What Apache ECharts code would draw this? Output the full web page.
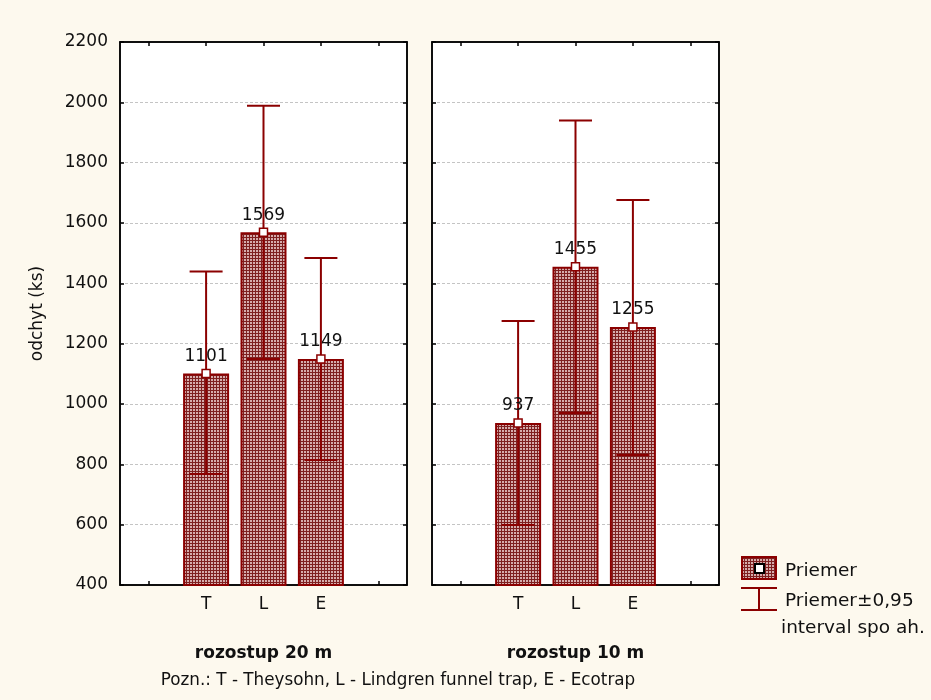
<!DOCTYPE html>
<html><head><meta charset="utf-8">
<script src="https://cdn.jsdelivr.net/npm/echarts@6/dist/echarts.min.js"></script>
<style>html,body{margin:0;padding:0;background:#fdf9ee;}#c{width:931px;height:700px;}</style>
</head><body><div id="c"></div>
<script>
const categories = ['', 'T', 'L', 'E', ''];
const groups = ['rozostup 20 m', 'rozostup 10 m'];
const means20 = [1101, 1569, 1149];
const low20 = [768, 1149, 814];
const high20 = [1439, 1989, 1484];
const means10 = [937, 1455, 1255];
const low10 = [599, 970, 831];
const high10 = [1275, 1940, 1676];
const yTicks = [400, 600, 800, 1000, 1200, 1400, 1600, 1800, 2000, 2200];
const legendNames = ['Priemer', 'Priemer\u00b10,95', 'interval spo ah.'];
const footnote = 'Pozn.: T - Theysohn, L - Lindgren funnel trap, E - Ecotrap';
const yName = 'odchyt (ks)';

const RED = '#8b0000';
const FONT = 'DejaVu Sans';
function makePattern() {
  const c = document.createElement('canvas');
  c.width = 3; c.height = 3;
  const g = c.getContext('2d');
  g.fillStyle = '#7e2020'; g.fillRect(0, 0, 3, 3);
  g.fillStyle = '#d6acac'; g.fillRect(1, 1, 2, 2);
  return c;
}
const pat = { image: makePattern(), repeat: 'repeat' };

const chart = echarts.init(document.getElementById('c'));
const grids = [
  { left: 120, top: 42, width: 287, height: 543 },
  { left: 432, top: 42, width: 287, height: 543 }
];
const xAxes = [], yAxes = [], series = [];
const allMeans = [means20, means10], allLow = [low20, low10], allHigh = [high20, high10];
grids.forEach((g, gi) => {
  const axLine = { show: true, lineStyle: { color: '#000', width: 1.5 } };
  const tick = { show: true, inside: true, length: 4, alignWithLabel: true, lineStyle: { color: '#000', width: 1.5 } };
  xAxes.push({ type: 'category', gridIndex: gi, data: categories, position: 'bottom',
    axisLine: axLine, axisTick: tick,
    axisLabel: { fontSize: 17, color: '#111', margin: 11, fontFamily: FONT },
    name: groups[gi], nameLocation: 'middle', nameGap: 60,
    nameTextStyle: { fontSize: 17, fontWeight: 'bold', color: '#111', fontFamily: FONT } });
  xAxes.push({ type: 'category', gridIndex: gi, data: categories, position: 'top',
    axisLine: axLine, axisTick: tick, axisLabel: { show: false } });
  const yBase = { type: 'value', gridIndex: gi, min: yTicks[0], max: yTicks[yTicks.length - 1], interval: 200,
    axisLine: axLine, axisTick: { show: true, inside: true, length: 4, lineStyle: { color: '#000', width: 1.5 } } };
  yAxes.push(Object.assign({}, yBase, { position: 'left',
    axisLabel: { show: gi === 0, fontSize: 17, color: '#111', margin: 12, fontFamily: FONT, formatter: v => String(v) },
    splitLine: { show: true, showMinLine: false, showMaxLine: false, lineStyle: { color: '#c4c4c4', type: [3, 2], width: 1 } },
    name: gi === 0 ? yName : '', nameLocation: 'middle', nameGap: 74, nameRotate: 90,
    nameTextStyle: { fontSize: 17, color: '#111', fontFamily: FONT } }));
  yAxes.push(Object.assign({}, yBase, { position: 'right', axisLabel: { show: false }, splitLine: { show: false } }));

  const m = allMeans[gi], lo = allLow[gi], hi = allHigh[gi];
  const barData = categories.map((c, i) => (i >= 1 && i <= 3) ? m[i - 1] : null);
  series.push({ type: 'bar', xAxisIndex: gi * 2, yAxisIndex: gi * 2, data: barData, barWidth: 46,
    itemStyle: { color: pat, borderColor: RED, borderWidth: 2 }, z: 2, silent: true });
  series.push({ type: 'custom', xAxisIndex: gi * 2, yAxisIndex: gi * 2, z: 3,
    data: m.map((v, i) => [i + 1, lo[i], hi[i]]),
    renderItem: function (params, api) {
      const x = api.value(0);
      const pLo = api.coord([x, api.value(1)]);
      const pHi = api.coord([x, api.value(2)]);
      const w = 16.5;
      const st = { stroke: RED, lineWidth: 2 };
      return { type: 'group', children: [
        { type: 'line', shape: { x1: pLo[0], y1: pLo[1], x2: pHi[0], y2: pHi[1] }, style: st },
        { type: 'line', shape: { x1: pHi[0] - w, y1: pHi[1], x2: pHi[0] + w, y2: pHi[1] }, style: st },
        { type: 'line', shape: { x1: pLo[0] - w, y1: pLo[1], x2: pLo[0] + w, y2: pLo[1] }, style: st }
      ] };
    } });
  series.push({ type: 'scatter', xAxisIndex: gi * 2, yAxisIndex: gi * 2, z: 4,
    data: m.map((v, i) => [i + 1, v]), symbol: 'rect', symbolSize: 8,
    itemStyle: { color: '#fff', borderColor: RED, borderWidth: 1.5, opacity: 1 },
    label: { show: true, position: 'top', distance: 4, fontSize: 17, color: '#111', fontFamily: FONT,
      formatter: p => String(p.value[1]) } });
});

const txt = (x, y, t, extra) => ({ type: 'text', x: x, y: y, z: 10,
  style: Object.assign({ text: t, fontSize: 18.5, fill: '#111', fontFamily: FONT, verticalAlign: 'middle' }, extra || {}) });

chart.setOption({
  backgroundColor: '#fdf9ee',
  animation: false,
  grid: grids.map(g => Object.assign({ show: true, backgroundColor: '#fff', borderColor: '#000', borderWidth: 1.5 }, g)),
  xAxis: xAxes, yAxis: yAxes, series: series,
  graphic: [
    { type: 'rect', shape: { x: 742, y: 557, width: 34, height: 22 }, style: { fill: pat, stroke: RED, lineWidth: 2 } },
    { type: 'rect', shape: { x: 755, y: 564, width: 9, height: 9 }, style: { fill: '#fff', stroke: '#000', lineWidth: 2 } },
    txt(785, 571, legendNames[0]),
    { type: 'line', shape: { x1: 741, y1: 588, x2: 777, y2: 588 }, style: { stroke: RED, lineWidth: 2 } },
    { type: 'line', shape: { x1: 741, y1: 610, x2: 777, y2: 610 }, style: { stroke: RED, lineWidth: 2 } },
    { type: 'line', shape: { x1: 759, y1: 588, x2: 759, y2: 610 }, style: { stroke: RED, lineWidth: 2 } },
    txt(785, 601, legendNames[1]),
    txt(781, 628, legendNames[2]),
    txt(398, 681, footnote, { fontSize: 16.8, align: 'center' })
  ]
});
</script></body></html>
